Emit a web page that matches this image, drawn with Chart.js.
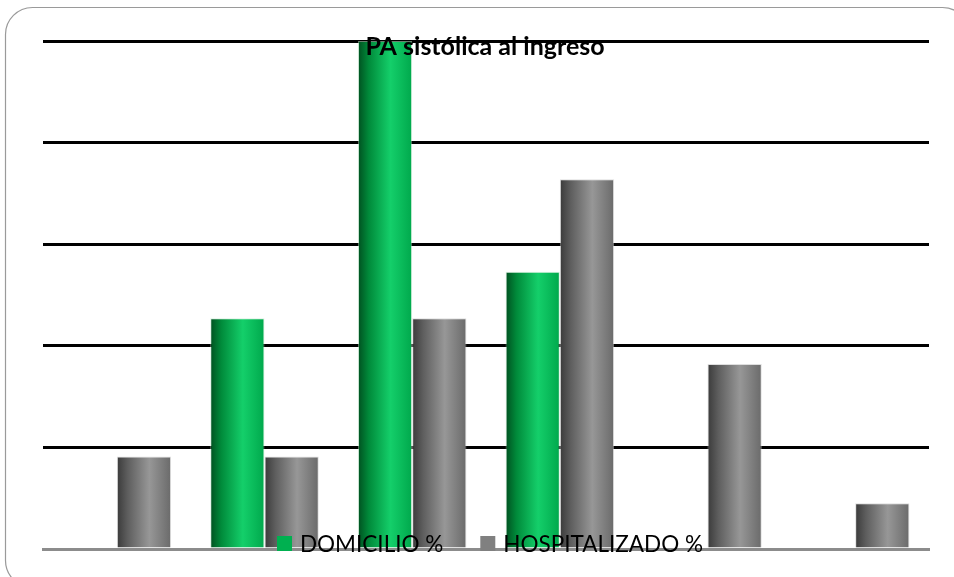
<!DOCTYPE html>
<html>
<head>
<meta charset="utf-8">
<script src="https://cdn.jsdelivr.net/npm/chart.js@4.4.1/dist/chart.umd.min.js"></script>
<style>
  html, body { margin: 0; padding: 0; background: #ffffff; }
  #wrap { width: 954px; height: 577px; position: relative; }
</style>
</head>
<body>
<div id="wrap"><canvas id="c" width="954" height="577"></canvas></div>
<script>
// Systolic blood pressure at admission: share of patients per category (%)
const categories = ['1', '2', '3', '4', '5', '6'];
const domicilio = [0, 22.7, 50, 27.3, 0, 0];
const hospitalizado = [9.1, 9.1, 22.7, 36.4, 18.2, 4.5];
const seriesNames = ['DOMICILIO %', 'HOSPITALIZADO %'];
const chartTitle = 'PA sistólica al ingreso';
const yMax = 50;
const yStep = 10;

const CAT_PCT = 0.735;

// Cylinder-like horizontal shading for each bar
const shades = [
  { stops: [[0, '#005020'], [0.2, '#008a3a'], [0.6, '#14cf6a'], [1, '#00a84c']], flat: '#00b050' },
  { stops: [[0, '#3a3a3a'], [0.2, '#5e5e5e'], [0.6, '#979797'], [1, '#6a6a6a']], flat: '#808080' }
];

function barFill(ctx) {
  const chart = ctx.chart;
  const xs = chart.scales.x;
  if (!xs || !chart.chartArea) return shades[ctx.datasetIndex].flat;
  const n = chart.data.labels.length;
  const nds = chart.data.datasets.length;
  const catW = xs.width / n;
  const barW = catW * CAT_PCT / nds;
  const center = xs.getPixelForValue(ctx.dataIndex);
  const left = center - catW * CAT_PCT / 2 + ctx.datasetIndex * barW;
  const g = chart.ctx.createLinearGradient(left, 0, left + barW, 0);
  shades[ctx.datasetIndex].stops.forEach(s => g.addColorStop(s[0], s[1]));
  return g;
}

// Rounded frame behind the chart
const framePlugin = {
  id: 'frame',
  beforeDraw(chart) {
    const c = chart.ctx;
    c.save();
    c.fillStyle = '#ffffff';
    c.fillRect(0, 0, chart.width, chart.height);
    c.beginPath();
    c.roundRect(5.5, 7.5, 964, 580, 27);
    c.strokeStyle = '#9a9a9a';
    c.lineWidth = 1.2;
    c.stroke();
    c.restore();
  }
};

// Title and legend painted over the plot area
const overlayPlugin = {
  id: 'overlay',
  afterDraw(chart) {
    const c = chart.ctx;
    const area = chart.chartArea;
    const cx = (area.left + area.right) / 2;
    c.save();
    c.fillStyle = '#000000';
    c.font = 'bold 25px Lato';
    c.textAlign = 'center';
    c.textBaseline = 'alphabetic';
    c.fillText(chartTitle, cx - 1, 55);

    c.font = '22.5px Lato';
    c.textAlign = 'left';
    const box = 15, gapBox = 8, gapItem = 37;
    const widths = chart.data.datasets.map(d => c.measureText(d.label).width);
    let total = 0;
    widths.forEach((w, i) => { total += box + gapBox + w + (i ? gapItem : 0); });
    let x = cx + 4 - total / 2;
    const baseY = 552;
    chart.data.datasets.forEach((d, i) => {
      c.fillStyle = shades[i].flat;
      c.fillRect(x, baseY - 16, box, box);
      c.fillStyle = '#000000';
      c.fillText(d.label, x + box + gapBox, baseY);
      x += box + gapBox + widths[i] + gapItem;
    });
    c.restore();
  }
};

new Chart(document.getElementById('c'), {
  type: 'bar',
  data: {
    labels: categories,
    datasets: [
      { label: seriesNames[0], data: domicilio, backgroundColor: barFill,
        borderColor: 'rgba(190,230,200,0.55)', borderWidth: 1 },
      { label: seriesNames[1], data: hospitalizado, backgroundColor: barFill,
        borderColor: 'rgba(200,200,200,0.6)', borderWidth: 1 }
    ]
  },
  options: {
    responsive: false,
    animation: false,
    devicePixelRatio: 1,
    layout: { padding: { left: 43, right: 25, top: 41, bottom: 28 } },
    plugins: {
      legend: { display: false },
      title: { display: false },
      tooltip: { enabled: false }
    },
    datasets: { bar: { categoryPercentage: CAT_PCT, barPercentage: 1 } },
    scales: {
      x: {
        display: true,
        grid: { display: false, drawTicks: false },
        ticks: { display: false },
        border: { display: true, color: '#8c8c8c', width: 3 }
      },
      y: {
        display: true,
        min: 0,
        max: yMax,
        grid: {
          drawTicks: false,
          lineWidth: 3,
          color: c => (c.tick && c.tick.value === 0 ? 'rgba(0,0,0,0)' : '#000000')
        },
        ticks: { display: false, stepSize: yStep },
        border: { display: false }
      }
    }
  },
  plugins: [framePlugin, overlayPlugin]
});
</script>
</body>
</html>
